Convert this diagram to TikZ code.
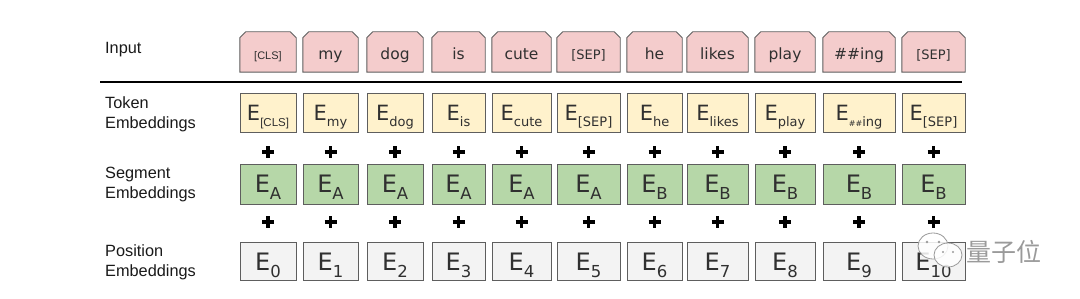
\documentclass[tikz,border=0pt]{standalone}
\usepackage{fontspec}
\setmainfont{Liberation Sans}
\newfontfamily\verd{DejaVu Sans}
\newfontfamily\cjk{Noto Sans CJK SC}
\definecolor{inpink}{HTML}{F4CCCC}
\definecolor{tokyel}{HTML}{FFF2CC}
\definecolor{seggrn}{HTML}{B6D7A8}
\definecolor{posgry}{HTML}{F3F3F3}
\definecolor{bord}{HTML}{5E5E5E}
\definecolor{txt}{HTML}{303030}
\definecolor{wm}{HTML}{9A9A9A}
\pgfdeclarelayer{bg}
\pgfsetlayers{bg,main}
\newcommand\tokE[1]{{\verd\fontsize{21}{21}\selectfont E}\raisebox{-6pt}{\verd\fontsize{13}{13}\selectfont #1}}
\newcommand\bigE[1]{{\verd\fontsize{24}{24}\selectfont E}\raisebox{-7pt}{\verd\fontsize{16.5}{16.5}\selectfont #1}}
\begin{document}
\begin{tikzpicture}[x=1pt,y=-1pt,
  base/.style={draw=bord, line width=0.9pt, inner sep=0pt, text=txt},
  inbox/.style={inner sep=0pt, text=txt, minimum height=40pt, text height=16pt, text depth=0pt, font=\verd\fontsize{15.5}{15.5}\selectfont},
  inshape/.style={draw=bord, line width=0.9pt, fill=inpink, line join=miter},
  tokbox/.style={base, fill=tokyel, minimum height=39pt, text height=17pt, text depth=0pt},
  segbox/.style={base, fill=seggrn, minimum height=40pt, text height=17pt, text depth=0pt},
  posbox/.style={base, fill=posgry, minimum height=38pt, text height=19pt, text depth=0pt},
  rowlabel/.style={anchor=west, align=left, inner sep=0pt, font=\fontsize{16.3}{20}\selectfont, text=black!90},
  plusst/.style={line width=3.6pt, black},
  sepline/.style={line width=2.6pt, black}
]
\useasboundingbox (0,0) rectangle (1080,299);

% row labels
\node[rowlabel] (lin) at (105,50) {Input};
\node[rowlabel] (ltok) at (105,114) {Token\\Embeddings};
\node[rowlabel] (lseg) at (105,185) {Segment\\Embeddings};
\node[rowlabel] (lpos) at (105,262) {Position\\Embeddings};

% separator
\coordinate (sl) at (100,82);
\coordinate (sr) at (962,82);
\draw[sepline] (sl) -- (sr);

\foreach \i/\c/\w/\intxt/\toksub/\seg/\pos in {
  1/268/56/{\fontsize{11}{11}\selectfont\rmfamily [CLS]}/{\fontsize{11.5}{11.5}\selectfont\rmfamily [CLS]}/A/0,
  2/330.5/55/my/my/A/1,
  3/395/56/dog/dog/A/2,
  4/458.5/53/is/is/A/3,
  5/521.5/59/cute/cute/A/4,
  6/588.5/63/{\fontsize{13}{13}\selectfont [SEP]}/[SEP]/A/5,
  7/654.5/55/he/he/B/6,
  8/717.5/61/likes/likes/B/7,
  9/785/60/play/play/B/8,
  10/859/72/\#\#ing/{{\fontsize{8}{8}\selectfont\#\#}ing}/B/9,
  11/933.5/63/{\fontsize{13}{13}\selectfont [SEP]}/[SEP]/B/10}
{
  \node[inbox, minimum width=\w pt] (in\i) at (\c,52) {\intxt};
  \begin{pgfonlayer}{bg}
    \draw[inshape] ([yshift=-6pt]in\i.north west) -- ([xshift=6pt]in\i.north west)
      -- ([xshift=-6pt]in\i.north east) -- ([yshift=-6pt]in\i.north east)
      -- (in\i.south east) -- (in\i.south west) -- cycle;
  \end{pgfonlayer}
  \node[tokbox, minimum width=\w pt] (tok\i) at (\c,112.5) {\tokE{\toksub}};
  \node[segbox, minimum width=\w pt] (seg\i) at (\c,184) {\bigE{\seg}};
  \node[posbox, minimum width=\w pt] (pos\i) at (\c,261) {\bigE{\pos}};
  \coordinate (pa\i) at (\c,152);
  \coordinate (pb\i) at (\c,222);
  \draw[plusst] ([xshift=-6pt]pa\i) -- ([xshift=6pt]pa\i) ([yshift=-6pt]pa\i) -- ([yshift=6pt]pa\i);
  \draw[plusst] ([xshift=-6pt]pb\i) -- ([xshift=6pt]pb\i) ([yshift=-6pt]pb\i) -- ([yshift=6pt]pb\i);
}

% watermark
\draw[wm, line width=0.8pt, fill=white, fill opacity=0.85] (933,246) ellipse [x radius=15pt, y radius=13pt];
\fill[wm] (927,242) circle (1.3pt) (939,242) circle (1.3pt);
\draw[wm, line width=0.8pt, fill=white, fill opacity=0.85] (948,255) ellipse [x radius=14pt, y radius=12pt];
\fill[wm] (943,252) circle (1.2pt) (953,252) circle (1.2pt);
\node[inner sep=0pt, anchor=west, text=wm, font=\cjk\fontsize{25}{25}\selectfont] (wmtext) at (966,252) {量子位};
\end{tikzpicture}
\end{document}
